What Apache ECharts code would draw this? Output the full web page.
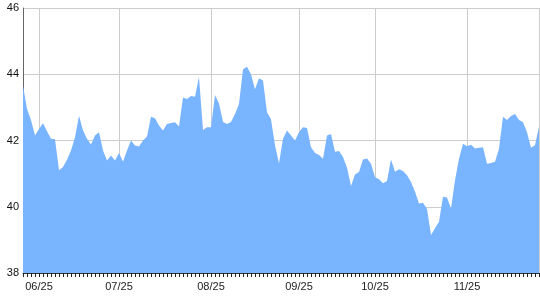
<!DOCTYPE html>
<html>
<head>
<meta charset="utf-8">
<script src="https://cdn.jsdelivr.net/npm/echarts@6/dist/echarts.min.js"></script>
<style>html,body{margin:0;padding:0;background:#fff}#c{width:540px;height:300px}</style>
</head>
<body>
<div id="c"></div>
<script>
const values = [
43.65,42.95,42.62,42.15,42.35,42.52,42.28,42.05,42.04,41.10,
41.20,41.42,41.70,42.10,42.75,42.30,42.05,41.88,42.15,42.25,
41.70,41.40,41.55,41.40,41.62,41.36,41.70,42.00,41.85,41.82,
42.00,42.12,42.72,42.67,42.45,42.30,42.50,42.53,42.55,42.42,
43.30,43.25,43.34,43.32,43.92,42.32,42.40,42.40,43.37,43.12,
42.56,42.50,42.56,42.80,43.10,44.15,44.23,44.00,43.55,43.88,
43.81,42.85,42.64,41.85,41.31,42.05,42.30,42.15,42.00,42.25,
42.40,42.38,41.80,41.62,41.56,41.45,42.15,42.20,41.66,41.68,
41.50,41.18,40.63,40.97,41.05,41.43,41.46,41.30,40.89,40.83,
40.71,40.78,41.43,41.06,41.13,41.08,40.95,40.75,40.45,40.10,
40.12,39.93,39.15,39.35,39.55,40.30,40.28,39.95,40.80,41.45,
41.90,41.83,41.87,41.76,41.78,41.80,41.30,41.32,41.36,41.75,
42.72,42.62,42.74,42.80,42.62,42.55,42.25,41.78,41.86,42.42
];
const tickLabels = ['06/25','07/25','08/25','09/25','10/25','11/25'];
const tickIndex = [4,24,47,69,88,111];
const yTicks = [38,40,42,44,46];

const categories = values.map((v,i)=>String(i));
const labelAt = {};
tickIndex.forEach((idx,k)=>{ labelAt[idx] = tickLabels[k]; });

const chart = echarts.init(document.getElementById('c'), null, {renderer:'canvas'});
chart.setOption({
  animation:false,
  backgroundColor:'#fff',
  grid:{left:23,right:1,top:8,bottom:27,containLabel:false},
  xAxis:{
    type:'category',
    data:categories,
    boundaryGap:false,
    axisLine:{show:true,lineStyle:{color:'#333',width:1}},
    axisTick:{show:true,interval:0,length:4,lineStyle:{color:'#222'}},
    axisLabel:{
      interval:(i)=> labelAt[i]!==undefined,
      formatter:(v,i)=> labelAt[i] || '',
      color:'#222',fontFamily:'Liberation Sans, Arial, sans-serif',fontSize:11,margin:8
    },
    splitLine:{show:true,interval:(i)=> labelAt[i]!==undefined || i===values.length-1,
      lineStyle:{color:'#cccccc',width:1}}
  },
  yAxis:{
    type:'value',min:yTicks[0],max:yTicks[yTicks.length-1],interval:2,
    axisLine:{show:true,lineStyle:{color:'#666',width:1}},
    axisTick:{show:false},
    axisLabel:{color:'#111',fontFamily:'Liberation Sans, Arial, sans-serif',fontSize:11,margin:4},
    splitLine:{show:true,lineStyle:{color:'#cccccc',width:1}}
  },
  series:[{
    type:'line',
    data:values,
    symbol:'none',
    lineStyle:{width:0,color:'#78b4ff'},
    areaStyle:{color:'#78b4ff',opacity:1,origin:'start'},
    z:1
  }]
});
</script>
</body>
</html>
